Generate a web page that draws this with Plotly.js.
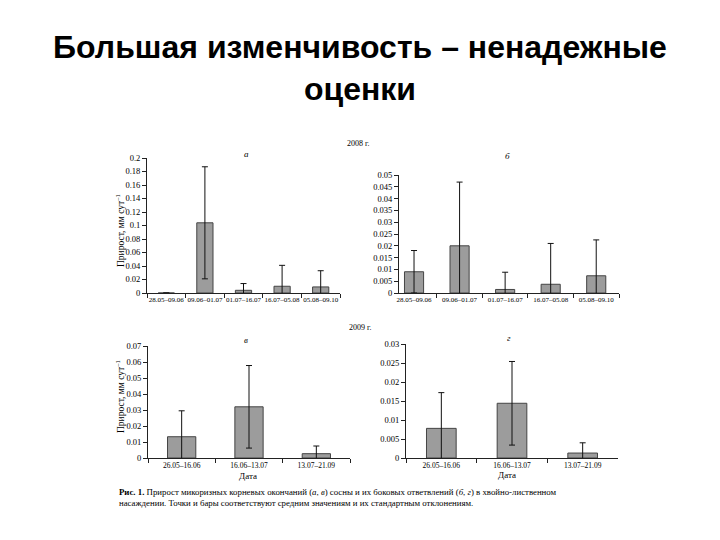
<!DOCTYPE html>
<html>
<head>
<meta charset="utf-8">
<script src="https://cdn.plot.ly/plotly-3.0.1.min.js"></script>
<style>html,body{margin:0;padding:0;background:#fff;}#chart{width:720px;height:540px;}</style>
</head>
<body>
<div id="chart"></div>
<script>
// ---- data ----
const cats2008 = ["28.05–09.06", "09.06–01.07", "01.07–16.07", "16.07–05.08", "05.08–09.10"];
const meanA = [0, 0.104, 0.004, 0.010, 0.009];
const sdA   = [0, 0.083, 0.010, 0.031, 0.024];
const meanB = [0.009, 0.020, 0.0015, 0.0037, 0.0073];
const sdB   = [0.009, 0.027, 0.0073, 0.0173, 0.0152];
const cats2009 = ["26.05–16.06", "16.06–13.07", "13.07–21.09"];
const meanV = [0.0133, 0.032, 0.0027];
const sdV   = [0.0162, 0.0258, 0.0048];
const meanG = [0.0078, 0.0144, 0.0013];
const sdG   = [0.0094, 0.011, 0.0027];

const W = 720, H = 540;
const px = v => v / W;
const py = v => 1 - v / H;

const serif = '"Liberation Serif", "Times New Roman", serif';
const barColor = "#9c9c9c";
const lineColor = "#222";
const txt = "#000";

function barTrace(x, y, sd, xa, ya) {
  return {
    type: "bar", x: x, y: y, xaxis: xa, yaxis: ya,
    marker: {color: barColor, line: {color: "#444", width: 1}},
    error_y: {type: "data", array: sd, symmetric: true, color: "#111", thickness: 1, width: 3},
    width: 0.42, showlegend: false, hoverinfo: "skip"
  };
}

const data = [
  barTrace(cats2008, meanA, sdA, "x", "y"),
  barTrace(cats2008, meanB, sdB, "x2", "y2"),
  barTrace(cats2009, meanV, sdV, "x3", "y3"),
  barTrace(cats2009, meanG, sdG, "x4", "y4")
];

function xax(domain, range, anchor, fs) {
  return {
    domain: domain, range: range, anchor: anchor, type: "category",
    showline: true, linecolor: lineColor, linewidth: 1,
    ticks: "outside", ticklen: 4, tickcolor: lineColor, tickson: "boundaries",
    tickangle: 0, showgrid: false, zeroline: false, fixedrange: true,
    tickfont: {family: serif, size: fs, color: txt}
  };
}
function yax(domain, range, dtick, anchor) {
  return {
    domain: domain, range: range, dtick: dtick, anchor: anchor,
    showline: true, linecolor: lineColor, linewidth: 1,
    ticks: "outside", ticklen: 4, tickcolor: lineColor,
    showgrid: false, zeroline: false, fixedrange: true,
    tickfont: {family: serif, size: 8.5, color: txt}
  };
}

const ann = (text, x, y, opts) => Object.assign({
  text: text, x: px(x), y: py(y), xref: "paper", yref: "paper",
  showarrow: false, font: {family: serif, size: 8, color: txt}
}, opts || {});

const layout = {
  width: W, height: H,
  margin: {l: 0, r: 0, t: 0, b: 0},
  paper_bgcolor: "#fff", plot_bgcolor: "#fff",
  title: {
    text: "Большая изменчивость – ненадежные<br>оценки",
    font: {family: '"Liberation Sans", Arial, sans-serif', size: 32, color: "#000", weight: "bold"},
    x: 0.5, xanchor: "center", y: py(58), yanchor: "top", yref: "container"
  },
  xaxis:  xax([px(147), px(340)], [-0.5, 4.5], "y", 7),
  yaxis:  yax([py(293), py(158)], [0, 0.2], 0.02, "x"),
  xaxis2: xax([px(399), px(619)], [-0.33, 4.5], "y2", 7),
  yaxis2: yax([py(293), py(175)], [0, 0.05], 0.005, "x2"),
  xaxis3: xax([px(148), px(350)], [-0.5, 2.5], "y3", 7.5),
  yaxis3: yax([py(458), py(346)], [0, 0.07], 0.01, "x3"),
  xaxis4: xax([px(406), px(618)], [-0.5, 2.5], "y4", 7.5),
  yaxis4: yax([py(458), py(344)], [0, 0.03], 0.005, "x4"),
  annotations: [
    ann("2008 г.", 358, 137),
    ann("2009 г.", 360, 327),
    ann("<i>а</i>", 246, 147, {font: {family: serif, size: 9, color: txt}}),
    ann("<i>б</i>", 512, 149, {font: {family: serif, size: 9, color: txt}}),
    ann("<i>в</i>", 246, 340, {font: {family: serif, size: 9, color: txt}}),
    ann("<i>г</i>", 513, 338, {font: {family: serif, size: 9, color: txt}}),
    ann("Прирост, мм сут<sup>–1</sup>", 112, 231, {textangle: -90, font: {family: serif, size: 9.5, color: txt}}),
    ann("Прирост, мм сут<sup>–1</sup>", 112, 397, {textangle: -90, yanchor: "middle", font: {family: serif, size: 9.5, color: txt}}),
    ann("Дата", 248, 483, {font: {family: serif, size: 9, color: txt}}),
    ann("Дата", 518, 482, {font: {family: serif, size: 9, color: txt}}),
    ann("<b>Рис. 1.</b> Прирост микоризных корневых окончаний (<i>а</i>, <i>в</i>) сосны и их боковых ответвлений (<i>б</i>, <i>г</i>) в хвойно-лиственном<br>насаждении. Точки и бары соответствуют средним значениям и их стандартным отклонениям.",
        117, 485, {xanchor: "left", yanchor: "top", align: "left", font: {family: serif, size: 8.8, color: txt}})
  ]
};

Plotly.newPlot("chart", data, layout, {displayModeBar: false, staticPlot: true});
</script>
</body>
</html>
